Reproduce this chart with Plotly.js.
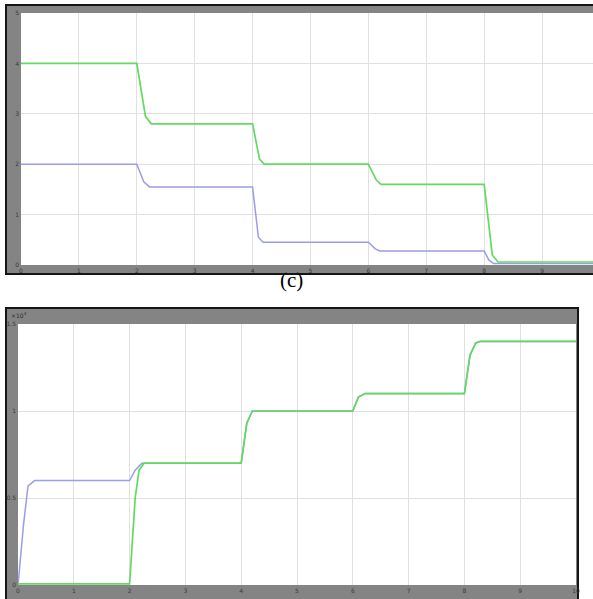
<!DOCTYPE html>
<html>
<head>
<meta charset="utf-8">
<script src="https://cdn.plot.ly/plotly-3.0.1.min.js"></script>
<style>
  html, body { margin: 0; padding: 0; background: #ffffff; }
  #chart { width: 593px; height: 599px; }
</style>
</head>
<body>
<div id="chart"></div>
<script>
// Scope (c), upper trace pair: time in divisions, level in divisions
var upperGreenT = [0, 2.0, 2.15, 2.25, 4.0, 4.12, 4.2, 6.0, 6.14, 6.22, 8.0, 8.14, 8.24, 9.88];
var upperGreenY = [4.0, 4.0, 2.95, 2.8, 2.8, 2.1, 2.0, 2.0, 1.68, 1.6, 1.6, 0.2, 0.06, 0.06];
var upperPurpleT = [0, 2.0, 2.12, 2.22, 4.0, 4.1, 4.18, 6.0, 6.12, 6.2, 8.0, 8.08, 8.16, 9.88];
var upperPurpleY = [2.0, 2.0, 1.65, 1.55, 1.55, 0.55, 0.45, 0.45, 0.32, 0.28, 0.28, 0.1, 0.03, 0.03];

// Lower scope: values in units of 10^4
var lowerPurpleT = [0, 0.1, 0.18, 0.3, 2.0, 2.1, 2.22, 4.0, 4.1, 4.2, 6.0, 6.1, 6.22, 8.0, 8.1, 8.2, 8.28, 10];
var lowerPurpleY = [0, 0.35, 0.57, 0.6, 0.6, 0.66, 0.7, 0.7, 0.93, 1.0, 1.0, 1.08, 1.1, 1.1, 1.32, 1.39, 1.4, 1.4];
var lowerGreenT = [0, 2.0, 2.1, 2.17, 2.26, 4.0, 4.1, 4.2, 6.0, 6.1, 6.22, 8.0, 8.1, 8.2, 8.28, 10];
var lowerGreenY = [0.006, 0.006, 0.5, 0.66, 0.7, 0.7, 0.93, 1.0, 1.0, 1.08, 1.1, 1.1, 1.32, 1.39, 1.4, 1.4];

var upperTicksX = [0, 1, 2, 3, 4, 5, 6, 7, 8, 9];
var upperTicksY = [0, 1, 2, 3, 4, 5];
var lowerTicksX = [0, 1, 2, 3, 4, 5, 6, 7, 8, 9, 10];
var lowerTicksY = [0, 0.5, 1, 1.5];

var W = 593, H = 599;
function px(x) { return x / W; }
function py(y) { return 1 - y / H; }

var green = '#62da62';
var purple = '#9c9ce8';

var traces = [
  { x: upperPurpleT, y: upperPurpleY, xaxis: 'x', yaxis: 'y', mode: 'lines',
    line: { color: purple, width: 1.5 }, hoverinfo: 'skip' },
  { x: upperGreenT, y: upperGreenY, xaxis: 'x', yaxis: 'y', mode: 'lines',
    line: { color: green, width: 1.7 }, hoverinfo: 'skip' },
  { x: lowerPurpleT, y: lowerPurpleY, xaxis: 'x2', yaxis: 'y2', mode: 'lines',
    line: { color: purple, width: 1.5 }, hoverinfo: 'skip' },
  { x: lowerGreenT, y: lowerGreenY, xaxis: 'x2', yaxis: 'y2', mode: 'lines',
    line: { color: green, width: 1.7 }, hoverinfo: 'skip' }
];

var tickFont = { family: 'DejaVu Sans', size: 6, color: '#3a3a3a' };
var gridColor = '#e0e0e0';

function axis(extra) {
  var a = {
    showgrid: true, gridcolor: gridColor, gridwidth: 1,
    zeroline: false, showline: false, ticks: '', tickfont: tickFont,
    fixedrange: true, ticklabelstandoff: 1
  };
  for (var k in extra) a[k] = extra[k];
  return a;
}

var layout = {
  width: W, height: H,
  margin: { l: 0, r: 0, t: 0, b: 0, pad: 0 },
  paper_bgcolor: '#ffffff',
  plot_bgcolor: '#ffffff',
  showlegend: false,
  xaxis: axis({ domain: [px(21), 1], range: [0, 9.88], tickmode: 'array',
    tickvals: upperTicksX, ticktext: upperTicksX.map(String), anchor: 'y' }),
  yaxis: axis({ domain: [py(265), py(13)], range: [0, 5], tickmode: 'array',
    tickvals: upperTicksY, ticktext: upperTicksY.map(String), anchor: 'x' }),
  xaxis2: axis({ domain: [px(18), px(576)], range: [0, 10], tickmode: 'array',
    tickvals: lowerTicksX, ticktext: lowerTicksX.map(String), anchor: 'y2' }),
  yaxis2: axis({ domain: [py(585), py(324)], range: [0, 1.5], tickmode: 'array',
    tickvals: lowerTicksY, ticktext: lowerTicksY.map(String), anchor: 'x2' }),
  shapes: [
    // upper scope frame
    { type: 'rect', xref: 'paper', yref: 'paper', layer: 'below',
      x0: px(6), x1: px(620), y0: py(274), y1: py(5),
      fillcolor: '#848484', line: { color: '#151515', width: 2 } },
    { type: 'rect', xref: 'paper', yref: 'paper', layer: 'below',
      x0: px(21), x1: px(620), y0: py(265), y1: py(13),
      fillcolor: '#ffffff', line: { width: 0 } },
    // lower scope frame
    { type: 'rect', xref: 'paper', yref: 'paper', layer: 'below',
      x0: px(6), x1: px(578), y0: py(620), y1: py(308),
      fillcolor: '#848484', line: { color: '#151515', width: 2 } },
    { type: 'rect', xref: 'paper', yref: 'paper', layer: 'below',
      x0: px(18), x1: px(576), y0: py(585), y1: py(324),
      fillcolor: '#ffffff', line: { width: 0 } }
  ],
  annotations: [
    { xref: 'paper', yref: 'paper', x: px(291), y: py(280), xanchor: 'center', yanchor: 'middle',
      text: '(c)', showarrow: false,
      font: { family: 'Liberation Serif', size: 21, color: '#000000' } },
    { xref: 'paper', yref: 'paper', x: px(9), y: py(315), xanchor: 'left', yanchor: 'middle',
      text: '×10<sup>4</sup>', showarrow: false,
      font: { family: 'DejaVu Sans', size: 6, color: '#2a2a2a' } }
  ]
};

Plotly.newPlot('chart', traces, layout, { staticPlot: true, displayModeBar: false });
</script>
</body>
</html>
